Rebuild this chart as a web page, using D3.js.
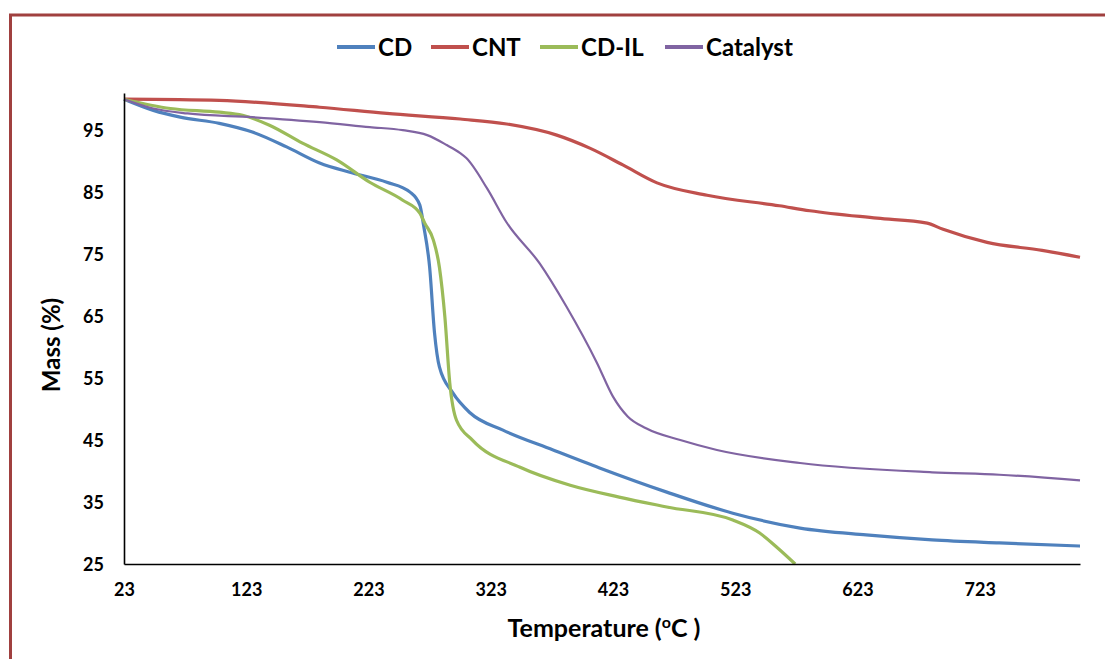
<!DOCTYPE html>
<html><head><meta charset="utf-8">
<script src="https://cdn.jsdelivr.net/npm/d3@7"></script>
<style>body{margin:0;background:#fff}svg{display:block}text{font-family:Lato,"Open Sans",sans-serif;font-weight:bold;fill:#000}</style>
</head><body>
<svg id="c" width="1105" height="659"></svg>
<script>
const seriesNames = ["CD", "CNT", "CD-IL", "Catalyst"];
const seriesColors = ["#4F81BD", "#C0504D", "#9BBB59", "#8064A2"];
const xTicks = [23, 123, 223, 323, 423, 523, 623, 723];
const yTicks = [25, 35, 45, 55, 65, 75, 85, 95];

const cdT = [23,47,69,101,128,156,183,210,238,257,265,268,273,277,281,292,306,333,374,412,467,521,576,630,684,739,805];
const cdM = [100,98.2,97.1,96.1,94.7,92.3,89.7,88.1,86.6,85.0,82.9,79.7,72.9,62.3,56.8,52.6,49.4,46.6,43.4,40.5,36.6,33.2,30.8,29.7,28.9,28.4,27.9];

const cntT = [23,101,183,238,298,336,377,404,431,459,500,559,584,639,680,693,729,774,805];
const cntM = [100,99.8,98.7,97.7,96.8,96.0,94.2,92.1,89.4,86.5,84.5,82.8,82.0,80.8,80.0,79.0,76.9,75.6,74.5];

const cdilT = [23,61,101,120,142,169,197,224,251,265,269,276,281,285.5,289.5,295,308,347,388,428,467,521,543,557,572];
const cdilM = [100,98.5,97.9,97.4,95.8,92.9,90.2,86.6,83.7,81.6,80.0,77.3,72.9,64.8,54.2,48.2,45.0,40.6,37.7,35.8,34.2,32.1,30.0,27.7,25.0];

const catT = [23,47,75,128,183,224,251,271,287,298,303,320,336,363,385,410,423,435,450,478,508,576,684,739,805];
const catM = [100,98.5,97.7,97.1,96.3,95.5,95.0,94.2,92.6,91.3,90.5,85.6,80.1,73.5,66.5,57.4,52.0,48.8,46.9,45.0,43.4,41.3,39.8,39.4,38.5];

const seriesT = [cdT, cntT, cdilT, catT];
const seriesM = [cdM, cntM, cdilM, catM];
const seriesW = [3.2, 3.2, 3.2, 2.2];

const svg = d3.select("#c");
const x = d3.scaleLinear().domain([23, 805]).range([124, 1080]);
const y = d3.scaleLinear().domain([25, 101]).range([564, 93]);

// outer border (top and left)
svg.append("path").attr("d", "M10.5,659 L10.5,15 L1105,15")
  .attr("fill", "none").attr("stroke", "#A0403F").attr("stroke-width", 3);

// lines
const line = d3.line().x(d => x(d[0])).y(d => y(d[1])).curve(d3.curveMonotoneX);
seriesNames.forEach((n, i) => {
  const pts = seriesT[i].map((t, j) => [t, seriesM[i][j]]);
  svg.append("path").datum(pts).attr("d", line)
    .attr("fill", "none").attr("stroke", seriesColors[i])
    .attr("stroke-width", seriesW[i]).attr("stroke-linejoin", "round");
});

// axes
const xAxis = svg.append("g").attr("transform", "translate(0,564)")
  .call(d3.axisBottom(x).tickValues(xTicks).tickSize(0).tickPadding(0));
xAxis.select(".domain").attr("stroke", "#000").attr("stroke-width", 1.6);
xAxis.selectAll("text").attr("y", 32).attr("dy", 0).style("font-size", "18px")
  .style("font-family", "Lato").style("font-weight", "bold").attr("fill", "#000");

const yAxis = svg.append("g").attr("transform", "translate(124,0)")
  .call(d3.axisLeft(y).tickValues(yTicks).tickSize(0).tickPadding(0));
yAxis.select(".domain").attr("stroke", "#000").attr("stroke-width", 1.6);
yAxis.selectAll("text").attr("x", -20).attr("dy", "0.36em").style("font-size", "18px")
  .style("font-family", "Lato").style("font-weight", "bold").attr("fill", "#000");

// axis titles
svg.append("text").attr("transform", "translate(60,345) rotate(-90)")
  .attr("text-anchor", "middle").style("font-size", "24px").text("Mass (%)");
const xt = svg.append("text").attr("x", 604).attr("y", 637)
  .attr("text-anchor", "middle").style("font-size", "25px");
xt.append("tspan").text("Temperature (");
xt.append("tspan").attr("baseline-shift", "super").style("font-size", "16px").text("o");
xt.append("tspan").text("C )");

// legend
const legX = [337, 431, 540, 665];
seriesNames.forEach((n, i) => {
  const g = svg.append("g");
  g.append("line").attr("x1", legX[i]).attr("x2", legX[i] + 38).attr("y1", 47).attr("y2", 47)
    .attr("stroke", seriesColors[i]).attr("stroke-width", 4);
  g.append("text").attr("x", legX[i] + 41).attr("y", 55.5).style("font-size", "24px").text(n);
});
</script>
</body></html>
